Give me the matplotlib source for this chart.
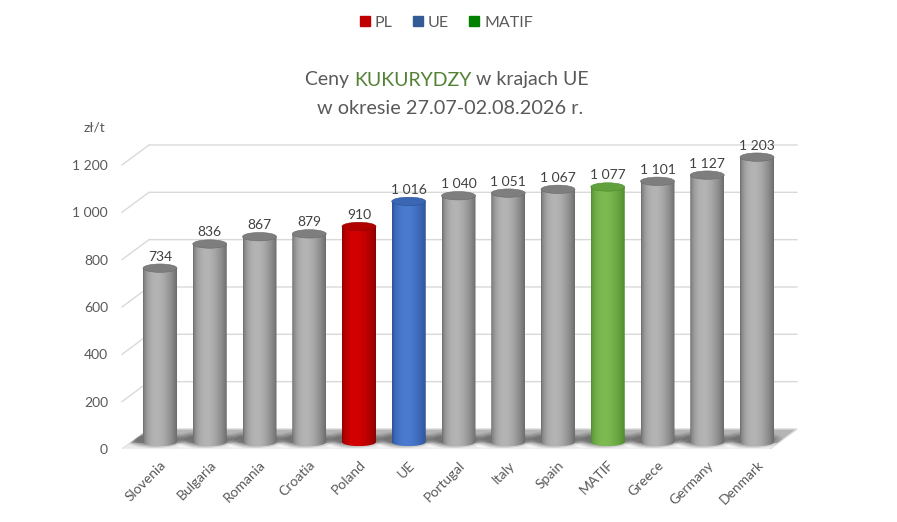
import numpy as np
import matplotlib
matplotlib.use('Agg')
import matplotlib.pyplot as plt
from matplotlib.patches import Ellipse, Polygon, PathPatch
from matplotlib.path import Path
from matplotlib.lines import Line2D
from matplotlib.colors import to_rgb

plt.rcParams['font.family'] = ['Lato', 'DejaVu Sans']

# dane
countries = ['Slovenia', 'Bulgaria', 'Romania', 'Croatia', 'Poland', 'UE', 'Portugal',
             'Italy', 'Spain', 'MATIF', 'Greece', 'Germany', 'Denmark']
prices = [734, 836, 867, 879, 910, 1016, 1040, 1051, 1067, 1077, 1101, 1127, 1203]
labels = ['734', '836', '867', '879', '910', '1 016', '1 040', '1 051', '1 067', '1 077',
          '1 101', '1 127', '1 203']
yticks = [0, 200, 400, 600, 800, 1000, 1200]
ytick_labels = ['0', '200', '400', '600', '800', '1 000', '1 200']
legend_names = ['PL', 'UE', 'MATIF']

TXT = '#595959'
# kolory walcow: (ciemny, jasny, wierzch)
styles = {
    'grey': ('#6a6a6a', '#b4b4b4', '#7e7e7e'),
    'PL': ('#8c0000', '#d40000', '#b00000'),
    'UE': ('#2a4f94', '#4a7bd0', '#3a66b4'),
    'MATIF': ('#4f8a2c', '#7dba52', '#62a03c'),
}
bar_style = ['grey'] * 13
bar_style[4] = 'PL'
bar_style[5] = 'UE'
bar_style[9] = 'MATIF'

px_x = 49.75      # px na kategorie
px_y = 0.2367     # px na jednostke
base = 30         # podstawa walca (glebokosc)
bw = 34 / px_x    # szerokosc walca
eh = 4.2 / px_y   # polowa wysokosci elipsy
ddx = 27 / px_x   # przesuniecie sciany tylnej
ddy = 20 / px_y

fig = plt.figure(figsize=(8.97, 5.22), dpi=100)
ax = fig.add_axes([122 / 897, (522 - 449) / 522, (800 - 122) / 897, (449 - 135) / 522])
xl = (-38 / px_x, (800 - 160) / px_x)
yl = (0, 314 / px_y)

# siatka (sciana tylna + ukosne odcinki)
xback_r = (797 - 160) / px_x
xfront_r = (770 - 160) / px_x
for v in yticks[1:]:
    ax.plot([xl[0], xl[0] + ddx, xback_r], [v, v + ddy, v + ddy], color='#d9d9d9', lw=1, zorder=1,
            clip_on=False)

# podloga z cieniem
floor = Polygon([(xl[0], 0), (xfront_r, 0), (xback_r, ddy), (xl[0] + ddx, ddy)],
                closed=True, fc='#b4b4b4', ec='#d9d9d9', lw=1, zorder=2)
ax.add_patch(floor)
strip = Polygon([(xl[0], 0), (xfront_r, 0), (xfront_r + ddx * 0.3, ddy * 0.3),
                 (xl[0] + ddx * 0.3, ddy * 0.3)], closed=True, fc='#f2f2f2', ec='none',
                alpha=0.9, zorder=2)
ax.add_patch(strip)
strip.set_clip_path(floor)
for i in range(len(countries) - 1):
    for k, a in enumerate([0.25, 0.3, 0.35]):
        sp = Ellipse((i + 0.5, base - 10), 0.35 - 0.08 * k, eh * (2.2 - 0.5 * k),
                     fc='white', ec='none', alpha=a, zorder=3)
        ax.add_patch(sp)
        sp.set_clip_path(floor)
for i in range(len(countries)):
    for k, a in enumerate([0.15, 0.2, 0.25, 0.3]):
        sh = Ellipse((i - 0.1, base + 10), bw * (1.8 - 0.2 * k), eh * (4.0 - 0.6 * k),
                     fc='#505050', ec='none', alpha=a, zorder=3)
        ax.add_patch(sh)
        sh.set_clip_path(floor)


def cylinder(x, top, key):
    dark, light, topc = [np.array(to_rgb(c)) for c in styles[key]]
    t = np.linspace(0, 1, 80)
    prof = np.sin(np.pi * t ** 0.75) ** 0.8
    cols = dark + (light - dark) * prof[:, None]
    img = cols[None, :, :]
    im = ax.imshow(img, extent=(x - bw / 2, x + bw / 2, base - eh, top), aspect='auto',
                   interpolation='bilinear', zorder=4)
    th = np.linspace(np.pi, 2 * np.pi, 30)
    verts = [(x - bw / 2, top), (x - bw / 2, base)]
    verts += [(x + bw / 2 * np.cos(a), base + eh * np.sin(a)) for a in th]
    verts += [(x + bw / 2, top), (x - bw / 2, top)]
    clip = PathPatch(Path(verts, closed=True), transform=ax.transData, fc='none', ec='none')
    ax.add_patch(clip)
    im.set_clip_path(clip)
    ax.add_patch(Ellipse((x, top), bw, 2 * eh, fc=topc, ec=dark, lw=0.4, zorder=5))


for i, (p, s) in enumerate(zip(prices, bar_style)):
    top = p + base
    cylinder(i, top, s)
    ax.text(i, top + eh + 6, labels[i], ha='center', va='bottom', fontsize=10, color='#404040',
            zorder=6)

ax.set_xlim(*xl)
ax.set_ylim(*yl)
for sp in ax.spines.values():
    sp.set_visible(False)
ax.set_yticks(yticks, ytick_labels)
ax.set_xticks(range(len(countries)), countries, rotation=45, ha='right', rotation_mode='anchor')
ax.tick_params(axis='y', length=0, pad=10, labelsize=10, labelcolor=TXT)
ax.tick_params(axis='x', length=0, pad=7, labelsize=10, labelcolor=TXT)
fig.text(105 / 897, 1 - 127 / 522, 'zł/t', fontsize=10, color=TXT, ha='right', va='center')

# legenda
handles = [Line2D([], [], ls='none', marker='s', ms=7, color=c)
           for c in ['#c00000', '#335b96', '#008000']]
fig.legend(handles, legend_names, loc='center', bbox_to_anchor=(0.497, 0.956), ncol=3,
           frameon=False, fontsize=11.5, labelcolor=TXT, handletextpad=0.2, columnspacing=1.2,
           handlelength=0.8)

# tytul (wielokolorowy)
fig.canvas.draw()
r = fig.canvas.get_renderer()
parts = [('Ceny ', TXT), ('KUKURYDZY', '#548235'), (' w krajach UE', TXT)]
texts = [fig.text(0, 1 - 80 / 522, s, color=c, fontsize=14, va='center') for s, c in parts]
widths = [t.get_window_extent(r).width for t in texts]
x0 = 447 - sum(widths) / 2
for t, w in zip(texts, widths):
    t.set_x(x0 / 897)
    x0 += w
fig.text(450 / 897, 1 - 108 / 522, 'w okresie 27.07-02.08.2026 r.', color=TXT, fontsize=14.3,
         ha='center', va='center')

fig.savefig('out.png', dpi=100)
